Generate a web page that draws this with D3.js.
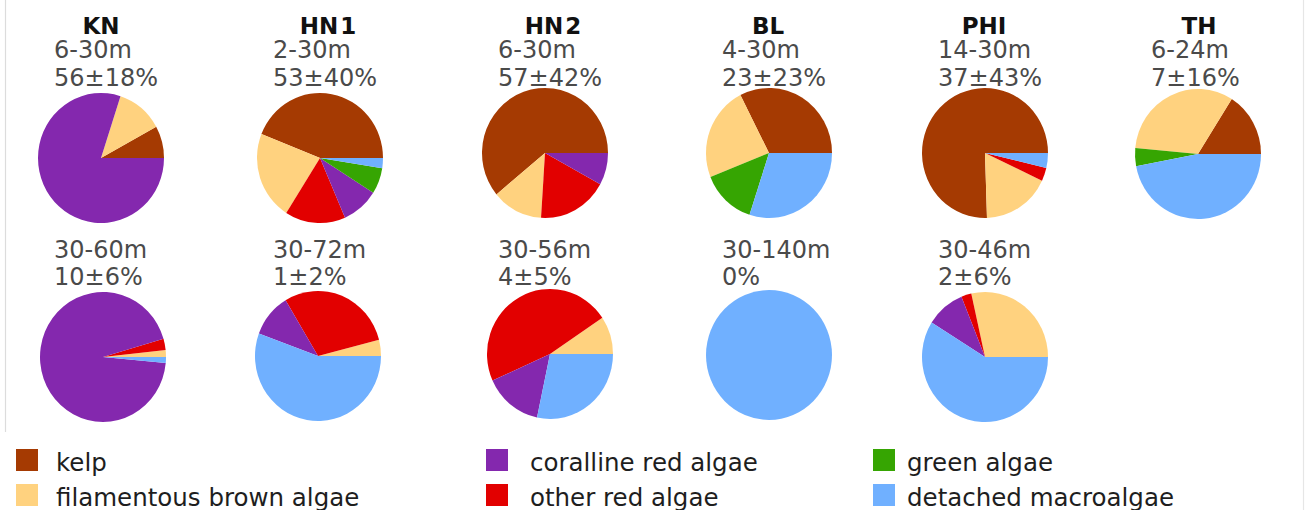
<!DOCTYPE html>
<html>
<head>
<meta charset="utf-8">
<script src="https://cdn.jsdelivr.net/npm/d3@7/dist/d3.min.js"></script>
<style>
  html, body { margin: 0; padding: 0; background: #fff; }
  svg { display: block; }
</style>
</head>
<body>
<svg id="chart" width="1306" height="510"></svg>
<script>
// Algal composition (% of each pie) at each site, shallow and deep zones
const categories = ["kelp", "filamentous brown algae", "other red algae",
                    "coralline red algae", "green algae", "detached macroalgae"];
const sites = ["KN", "HN1", "HN2", "BL", "PHI", "TH"];

const shallowDepth = ["6-30m", "2-30m", "6-30m", "4-30m", "14-30m", "6-24m"];
const shallowCover = ["56±18%", "53±40%", "57±42%", "23±23%", "37±43%", "7±16%"];
const deepDepth = ["30-60m", "30-72m", "30-56m", "30-140m", "30-46m"];
const deepCover = ["10±6%", "1±2%", "4±5%", "0%", "2±6%"];

// shallow zone, one value per site (KN, HN1, HN2, BL, PHI, TH)
const kelpShallow        = [8, 44, 61, 32.5, 75.5, 16];
const filamentousShallow = [12, 22, 13, 23.5, 17.5, 32.5];
const otherRedShallow    = [0, 15.5, 18, 0, 3.3, 0];
const corallineShallow   = [80, 9.5, 8, 0, 0, 0];
const greenShallow       = [0, 6.5, 0, 14, 0, 4.5];
const detachedShallow    = [0, 2.5, 0, 30, 3.7, 47];

// deep zone, one value per site (KN, HN1, HN2, BL, PHI)
const kelpDeep        = [0, 0, 0, 0, 0];
const filamentousDeep = [1.7, 4, 9.4, 0, 28.5];
const otherRedDeep    = [2.8, 29.6, 47.3, 0, 2.6];
const corallineDeep   = [94, 10.8, 15, 0, 10];
const greenDeep       = [0, 0, 0, 0, 0];
const detachedDeep    = [1.5, 55.6, 28.3, 100, 58.9];

// legend layout: columns of two entries each
const legendColumns = [
  ["kelp", "filamentous brown algae"],
  ["coralline red algae", "other red algae"],
  ["green algae", "detached macroalgae"]
];

const palette = ["#a53a02", "#ffd27f", "#e20000", "#8428ae", "#36a502", "#70b0ff"];
const color = d3.scaleOrdinal().domain(categories).range(palette);

const svg = d3.select("#chart");

// light frame edges
svg.append("line").attr("x1", 5.5).attr("x2", 5.5).attr("y1", 0).attr("y2", 432)
  .attr("stroke", "#dcdcdc").attr("stroke-width", 1.2);
svg.append("line").attr("x1", 1303.5).attr("x2", 1303.5).attr("y1", 0).attr("y2", 510)
  .attr("stroke", "#e6e6e6").attr("stroke-width", 1.2);

// horizontal centre of each site column
const siteX = d3.scaleOrdinal().domain(sites).range([101, 320, 545, 769, 985, 1198]);

const R = 64;
const pie = d3.pie().sort(null).value(d => d.value)
  .startAngle(Math.PI / 2).endAngle(Math.PI / 2 - 2 * Math.PI);
const arc = d3.arc().innerRadius(0).outerRadius(R);

function composition(i, zone) {
  const s = zone === "shallow"
    ? [kelpShallow, filamentousShallow, otherRedShallow, corallineShallow, greenShallow, detachedShallow]
    : [kelpDeep, filamentousDeep, otherRedDeep, corallineDeep, greenDeep, detachedDeep];
  return categories.map((c, k) => ({ category: c, value: s[k][i] }));
}

function drawPie(cx, cy, data) {
  const g = svg.append("g")
    .attr("transform", `translate(${cx},${cy}) scale(${63 / R},${65 / R})`);
  g.selectAll("path")
    .data(pie(data).filter(d => d.data.value > 0))
    .join("path")
    .attr("d", arc)
    .attr("fill", d => color(d.data.category));
}

const labelFont = "'DejaVu Sans', Verdana, sans-serif";

// site titles
const titleOffset = { KN: 0, HN1: 8, HN2: 8, BL: -1, PHI: -1, TH: 1 };
sites.forEach(s => {
  const t = svg.append("text")
    .attr("x", siteX(s) + titleOffset[s]).attr("y", 34)
    .attr("text-anchor", "middle")
    .attr("font-family", labelFont).attr("font-weight", "bold")
    .attr("font-size", 23).attr("fill", "#111");
  if (s.startsWith("HN")) {
    t.text("HN");
    t.append("tspan").attr("dx", 2).text(s.slice(2));
  } else {
    t.text(s);
  }
});

function zoneLabel(x, y, text) {
  svg.append("text").attr("x", x).attr("y", y)
    .attr("font-family", labelFont).attr("font-size", 24).attr("fill", "#4a4a4a")
    .text(text);
}

// shallow row
const shallowCy = [158, 158, 153, 153, 153, 154];
sites.forEach((s, i) => {
  const x0 = siteX(s);
  zoneLabel(x0 - 47, 58, shallowDepth[i]);
  zoneLabel(x0 - 47, 86, shallowCover[i]);
  drawPie(x0, shallowCy[i], composition(i, "shallow"));
});

// deep row
const deepCy = [357, 356, 354, 355, 357];
const deepDx = [2, -2, 5, 0, 0];
deepDepth.forEach((d, i) => {
  const x0 = siteX(sites[i]);
  zoneLabel(x0 - 47, 258, deepDepth[i]);
  zoneLabel(x0 - 47, 285, deepCover[i]);
  drawPie(x0 + deepDx[i], deepCy[i], composition(i, "deep"));
});

// legend
const legendX = [16, 486, 873];
const legendTextX = [56, 530, 907];
const legendRowY = [449, 484];
legendColumns.forEach((col, ci) => {
  col.forEach((name, ri) => {
    svg.append("rect")
      .attr("x", legendX[ci]).attr("y", legendRowY[ri])
      .attr("width", 22).attr("height", 22)
      .attr("fill", color(name));
    svg.append("text")
      .attr("x", legendTextX[ci]).attr("y", legendRowY[ri] + 22)
      .attr("font-family", labelFont).attr("font-size", 24.5).attr("fill", "#1e1e1e")
      .text(name);
  });
});
</script>
</body>
</html>
